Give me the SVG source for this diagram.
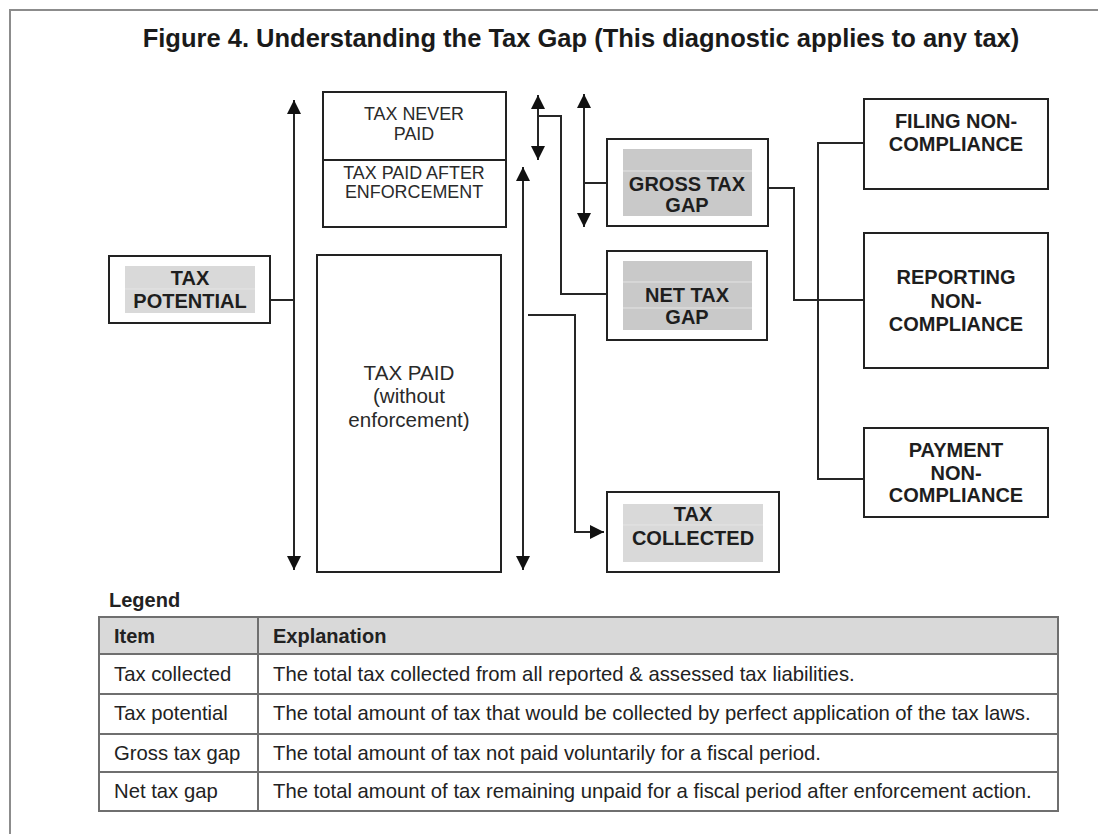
<svg xmlns="http://www.w3.org/2000/svg" width="1098" height="834" viewBox="0 0 1098 834">
  <style>
    .box { fill: #ffffff; stroke: #222222; stroke-width: 2; }
    .fill-light { fill: #d9d9d9; }
    .fill-dark { fill: #c9c9c9; }
    .cell-line { stroke: #e4e4e4; stroke-width: 1; }
    .lbl { font-family: "Liberation Sans", Arial, sans-serif; font-weight: bold; font-size: 20px; fill: #1e1e1e; text-anchor: middle; }
    .reg { font-family: "Liberation Sans", Arial, sans-serif; font-size: 17.9px; fill: #2a2a2a; text-anchor: middle; }
    .reg-big { font-family: "Liberation Sans", Arial, sans-serif; font-size: 20.6px; fill: #2a2a2a; text-anchor: middle; }
    .conn { fill: none; stroke: #262626; stroke-width: 2; }
    .tbl { font-family: "Liberation Sans", Arial, sans-serif; font-size: 20.3px; fill: #222222; }
    .tbl-head { font-family: "Liberation Sans", Arial, sans-serif; font-size: 20px; font-weight: bold; fill: #222222; }
    .grid { stroke: #6f6f6f; stroke-width: 2; fill: none; }
  </style>
  <defs>
    <marker id="arrow" viewBox="0 0 14 14" refX="14" refY="7" markerWidth="14" markerHeight="14" markerUnits="userSpaceOnUse" orient="auto-start-reverse">
      <path d="M0,0 L14,7 L0,14 z" fill="#111111"/>
    </marker>
  </defs>

  <rect x="0" y="0" width="1098" height="834" fill="#ffffff"/>

  <!-- page frame -->
  <path d="M10,834 L10,10 L1098,10" fill="none" stroke="#8c8c8c" stroke-width="2"/>

  <!-- title -->
  <text x="581" y="47" font-family="Liberation Sans, Arial, sans-serif" font-weight="bold" font-size="25.5" fill="#1a1a1a" text-anchor="middle">Figure 4. Understanding the Tax Gap (This diagnostic applies to any tax)</text>

  <!-- connectors -->
  <g id="connectors">
    <line class="conn" x1="294" y1="570" x2="294" y2="100" marker-start="url(#arrow)" marker-end="url(#arrow)"/>
    <line class="conn" x1="270" y1="300" x2="294" y2="300"/>
    <line class="conn" x1="523" y1="570" x2="523" y2="167" marker-start="url(#arrow)" marker-end="url(#arrow)"/>
    <line class="conn" x1="538" y1="160" x2="538" y2="95" marker-start="url(#arrow)" marker-end="url(#arrow)"/>
    <polyline class="conn" points="538,116 561,116 561,294 607,294"/>
    <line class="conn" x1="584" y1="227" x2="584" y2="94" marker-start="url(#arrow)" marker-end="url(#arrow)"/>
    <line class="conn" x1="584" y1="183" x2="607" y2="183"/>
    <polyline class="conn" points="528,315 575,315 575,532 604,532" marker-end="url(#arrow)"/>
    <polyline class="conn" points="768,188 794,188 794,300 864,300"/>
    <polyline class="conn" points="864,143 818,143 818,479 864,479"/>
  </g>

  <!-- tax potential -->
  <g id="tax-potential">
    <rect class="box" x="109" y="256" width="161" height="67"/>
    <rect class="fill-light" x="125" y="266" width="130" height="47"/>
    <line class="cell-line" x1="125" y1="289" x2="255" y2="289"/>
    <text class="lbl" x="190" y="285">TAX</text>
    <text class="lbl" x="190" y="308">POTENTIAL</text>
  </g>

  <!-- tax never paid / tax paid after enforcement -->
  <g id="tax-unpaid-stack">
    <rect class="box" x="323" y="92" width="183" height="135"/>
    <line x1="323" y1="160" x2="506" y2="160" stroke="#222222" stroke-width="2"/>
    <text class="reg" x="414" y="120">TAX NEVER</text>
    <text class="reg" x="414" y="140">PAID</text>
    <text class="reg" x="414" y="179">TAX PAID AFTER</text>
    <text class="reg" x="414" y="198">ENFORCEMENT</text>
  </g>

  <!-- tax paid without enforcement -->
  <g id="tax-paid">
    <rect class="box" x="317" y="255" width="184" height="317"/>
    <text class="reg-big" x="409" y="380">TAX PAID</text>
    <text class="reg-big" x="409" y="403">(without</text>
    <text class="reg-big" x="409" y="427">enforcement)</text>
  </g>

  <!-- gross tax gap -->
  <g id="gross-tax-gap">
    <rect class="box" x="607" y="139" width="161" height="87"/>
    <rect class="fill-dark" x="623" y="149" width="129" height="67"/>
    <line class="cell-line" x1="623" y1="171" x2="752" y2="171"/>
    <text class="lbl" x="687" y="191">GROSS TAX</text>
    <text class="lbl" x="687" y="212">GAP</text>
  </g>

  <!-- net tax gap -->
  <g id="net-tax-gap">
    <rect class="box" x="607" y="251" width="160" height="89"/>
    <rect class="fill-dark" x="623" y="261" width="129" height="69"/>
    <line class="cell-line" x1="623" y1="282" x2="752" y2="282"/>
    <line class="cell-line" x1="623" y1="308" x2="752" y2="308"/>
    <text class="lbl" x="687" y="302">NET TAX</text>
    <text class="lbl" x="687" y="324">GAP</text>
  </g>

  <!-- tax collected -->
  <g id="tax-collected">
    <rect class="box" x="607" y="492" width="172" height="80"/>
    <rect class="fill-light" x="623" y="504" width="140" height="58"/>
    <line class="cell-line" x1="623" y1="525" x2="763" y2="525"/>
    <text class="lbl" x="693" y="521">TAX</text>
    <text class="lbl" x="693" y="545">COLLECTED</text>
  </g>

  <!-- non-compliance categories -->
  <g id="filing">
    <rect class="box" x="864" y="99" width="184" height="90"/>
    <text class="lbl" x="956" y="128">FILING NON-</text>
    <text class="lbl" x="956" y="151">COMPLIANCE</text>
  </g>
  <g id="reporting">
    <rect class="box" x="864" y="233" width="184" height="135"/>
    <text class="lbl" x="956" y="284">REPORTING</text>
    <text class="lbl" x="956" y="308">NON-</text>
    <text class="lbl" x="956" y="331">COMPLIANCE</text>
  </g>
  <g id="payment">
    <rect class="box" x="864" y="428" width="184" height="89"/>
    <text class="lbl" x="956" y="457">PAYMENT</text>
    <text class="lbl" x="956" y="480">NON-</text>
    <text class="lbl" x="956" y="502">COMPLIANCE</text>
  </g>

  <!-- legend table -->
  <g id="legend">
    <text class="tbl-head" x="109" y="607">Legend</text>
    <rect x="99" y="617" width="959" height="37" fill="#d9d9d9"/>
    <rect class="grid" x="99" y="617" width="959" height="194"/>
    <line class="grid" x1="99" y1="654" x2="1058" y2="654"/>
    <line class="grid" x1="99" y1="694" x2="1058" y2="694"/>
    <line class="grid" x1="99" y1="734" x2="1058" y2="734"/>
    <line class="grid" x1="99" y1="772" x2="1058" y2="772"/>
    <line class="grid" x1="258" y1="617" x2="258" y2="811"/>
    <text class="tbl-head" x="114" y="643">Item</text>
    <text class="tbl-head" x="273" y="643">Explanation</text>
    <text class="tbl" x="114" y="681">Tax collected</text>
    <text class="tbl" x="273" y="681">The total tax collected from all reported &amp; assessed tax liabilities.</text>
    <text class="tbl" x="114" y="720">Tax potential</text>
    <text class="tbl" x="273" y="720">The total amount of tax that would be collected by perfect application of the tax laws.</text>
    <text class="tbl" x="114" y="760">Gross tax gap</text>
    <text class="tbl" x="273" y="760">The total amount of tax not paid voluntarily for a fiscal period.</text>
    <text class="tbl" x="114" y="798">Net tax gap</text>
    <text class="tbl" x="273" y="798">The total amount of tax remaining unpaid for a fiscal period after enforcement action.</text>
  </g>
</svg>
